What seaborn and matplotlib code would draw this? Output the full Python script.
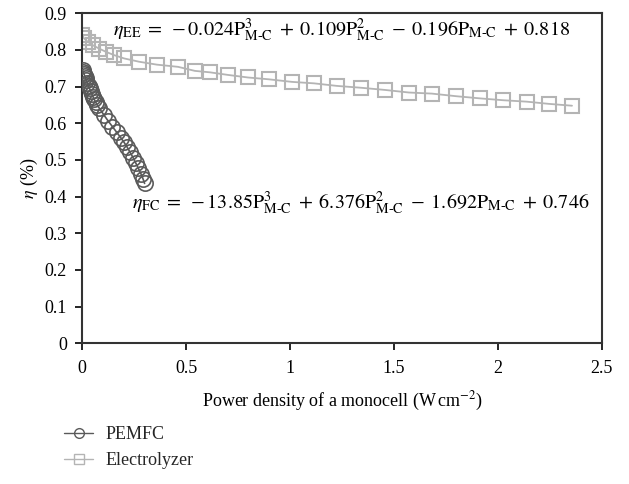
import matplotlib
matplotlib.use("Agg")
import matplotlib.pyplot as plt
import seaborn as sns
from matplotlib.lines import Line2D

# ---- data ----
fc_p = [0.002, 0.005, 0.008, 0.012, 0.016, 0.020, 0.025, 0.030, 0.035, 0.040,
        0.046, 0.052, 0.058, 0.065, 0.072, 0.080, 0.105, 0.125, 0.145, 0.165,
        0.185, 0.200, 0.215, 0.230, 0.245, 0.258, 0.270, 0.282, 0.292, 0.300]
fc_eta = [0.745, 0.740, 0.735, 0.729, 0.723, 0.717, 0.709, 0.702, 0.695, 0.688,
          0.680, 0.672, 0.665, 0.657, 0.650, 0.643, 0.622, 0.606, 0.591, 0.576,
          0.561, 0.549, 0.536, 0.521, 0.506, 0.491, 0.477, 0.463, 0.449, 0.436]

ee_p = [0.0, 0.008, 0.027, 0.051, 0.080, 0.114, 0.153, 0.201, 0.273, 0.359,
        0.461, 0.542, 0.615, 0.701, 0.797, 0.898, 1.009, 1.115, 1.226, 1.341,
        1.457, 1.572, 1.683, 1.798, 1.914, 2.024, 2.140, 2.246, 2.357]
ee_eta = [0.841, 0.832, 0.822, 0.813, 0.804, 0.795, 0.786, 0.777, 0.768, 0.760,
          0.754, 0.743, 0.739, 0.732, 0.725, 0.720, 0.713, 0.709, 0.702, 0.697,
          0.691, 0.684, 0.681, 0.674, 0.668, 0.663, 0.659, 0.653, 0.648]

series_names = ["PEMFC", "Electrolyzer"]
x_ticks = [0, 0.5, 1, 1.5, 2, 2.5]
x_tick_labels = ["0", "0.5", "1", "1.5", "2", "2.5"]
y_ticks = [0, 0.1, 0.2, 0.3, 0.4, 0.5, 0.6, 0.7, 0.8, 0.9]
y_tick_labels = ["0", "0.1", "0.2", "0.3", "0.4", "0.5", "0.6", "0.7", "0.8", "0.9"]

eq_ee = (r"$\eta_{\mathrm{EE}}\;=\;-0.024\mathrm{P}^{3}_{\mathrm{M\text{-}C}}\;"
         r"+\;0.109\mathrm{P}^{2}_{\mathrm{M\text{-}C}}\;-\;0.196\mathrm{P}_{\mathrm{M\text{-}C}}\;+\;0.818$")
eq_fc = (r"$\eta_{\mathrm{FC}}\;=\;-13.85\mathrm{P}^{3}_{\mathrm{M\text{-}C}}\;"
         r"+\;6.376\mathrm{P}^{2}_{\mathrm{M\text{-}C}}\;-\;1.692\mathrm{P}_{\mathrm{M\text{-}C}}\;+\;0.746$")

# ---- style ----
sns.set_theme(style="ticks")
plt.rcParams["font.family"] = ["Liberation Serif", "DejaVu Serif"]
plt.rcParams["mathtext.fontset"] = "stix"

fc_col = "#5a5a5a"
ee_col = "#b4b4b4"
axis_col = "#333333"

fig = plt.figure(figsize=(6.29, 4.84), dpi=100)
ax = fig.add_axes([0.1308, 0.2907, 0.8258, 0.6818])

sns.lineplot(x=ee_p, y=ee_eta, ax=ax, color=ee_col, linewidth=1.3, sort=False,
             marker="s", markersize=10.5, markerfacecolor="none",
             markeredgecolor=ee_col, markeredgewidth=1.5, zorder=2)
sns.lineplot(x=fc_p, y=fc_eta, ax=ax, color=fc_col, linewidth=1.2, sort=False,
             marker="o", markersize=11, markerfacecolor="none",
             markeredgecolor=fc_col, markeredgewidth=1.2, zorder=3)

ax.set_xlim(0, 2.5)
ax.set_ylim(0, 0.9)
ax.set_xticks(x_ticks)
ax.set_xticklabels(x_tick_labels)
ax.set_yticks(y_ticks)
ax.set_yticklabels(y_tick_labels)
ax.tick_params(axis="both", direction="out", length=5, width=1.2, colors="black",
               labelsize=13, pad=6)
ax.tick_params(axis="x", pad=7)
for s in ax.spines.values():
    s.set_visible(True)
    s.set_color(axis_col)
    s.set_linewidth(1.5)

ax.set_xlabel(r"Power density of a monocell (W$\,$cm$^{-2}$)", fontsize=13,
              labelpad=9, color="black")
ax.set_ylabel(r"$\eta$ (%)", fontsize=13, labelpad=3, color="black")

ax.text(0.148, 0.853, eq_ee, fontsize=14.5, va="center", ha="left", color="black")
ax.text(0.24, 0.382, eq_fc, fontsize=14.5, va="center", ha="left", color="black")

handles = [
    Line2D([], [], color=fc_col, linewidth=1.0, marker="o", markersize=7,
           markerfacecolor="none", markeredgecolor=fc_col, markeredgewidth=1.0),
    Line2D([], [], color=ee_col, linewidth=1.0, marker="s", markersize=7,
           markerfacecolor="none", markeredgecolor=ee_col, markeredgewidth=1.0),
]
fig.legend(handles, series_names, loc="upper left",
           bbox_to_anchor=(48 / 629, 1 - 410 / 484), frameon=False,
           fontsize=13, handlelength=1.6, handletextpad=0.7, labelspacing=0.5)

fig.savefig("out.png", dpi=100)
